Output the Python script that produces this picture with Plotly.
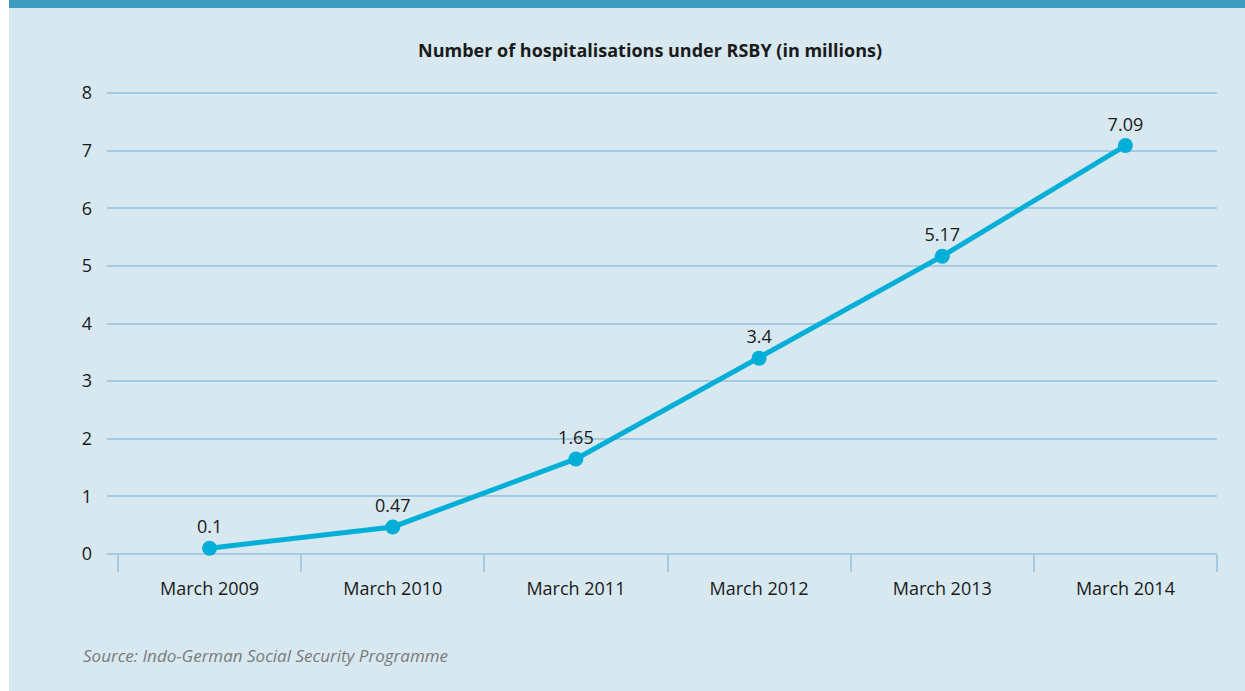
import plotly.graph_objects as go

categories = ["March 2009", "March 2010", "March 2011", "March 2012", "March 2013", "March 2014"]
values = [0.1, 0.47, 1.65, 3.4, 5.17, 7.09]
value_labels = ["0.1", "0.47", "1.65", "3.4", "5.17", "7.09"]
y_ticks = [0, 1, 2, 3, 4, 5, 6, 7, 8]

BG = "#d7e8f1"
GRID = "#a6cbe0"
LINE = "#00afd7"
TOPBAR = "#3e9bbd"
FONT = "Open Sans"
TXT = "#1a1a1a"

x_idx = list(range(len(categories)))
boundaries = [i - 0.5 for i in range(len(categories) + 1)]

fig = go.Figure()
fig.add_trace(go.Scatter(
    x=x_idx, y=values, mode="lines+markers+text",
    line=dict(color=LINE, width=5),
    marker=dict(color=LINE, size=15),
    text=value_labels, textposition="top center",
    textfont=dict(family=FONT, size=18, color=TXT),
    cliponaxis=False, hoverinfo="skip", showlegend=False,
))

W, H = 1245, 691
L, R, T, B = 107, 28, 92, 137
PW = W - L - R
PH = H - T - B


def px_x(p):
    return (p - L) / PW


def px_y(p):
    return (H - B - p) / PH


fig.update_layout(
    width=W, height=H,
    margin=dict(l=L, r=R, t=T, b=B),
    paper_bgcolor="white",
    plot_bgcolor=BG,
    font=dict(family=FONT, size=18, color=TXT),
    xaxis=dict(
        range=[-0.56, 5.5],
        tickvals=x_idx, ticktext=categories,
        showgrid=False, zeroline=False, showline=False,
        ticks="", ticklabelstandoff=22,
        tickfont=dict(family=FONT, size=18, color=TXT),
        minor=dict(tickvals=boundaries, ticks="outside", ticklen=17,
                   tickwidth=2, tickcolor=GRID, showgrid=False),
        fixedrange=True,
    ),
    yaxis=dict(
        range=[0, 8.02], tickvals=y_ticks,
        showgrid=True, gridcolor=GRID, gridwidth=2,
        zeroline=True, zerolinecolor=GRID, zerolinewidth=2,
        showline=False, ticks="", ticklabelstandoff=14,
        tickfont=dict(family=FONT, size=18, color=TXT),
        fixedrange=True,
    ),
    shapes=[
        dict(type="rect", xref="paper", yref="paper",
             x0=px_x(9), x1=px_x(W), y0=px_y(H), y1=px_y(0),
             fillcolor=BG, line=dict(width=0), layer="below"),
        dict(type="rect", xref="paper", yref="paper",
             x0=px_x(9), x1=px_x(W), y0=px_y(8), y1=px_y(0),
             fillcolor=TOPBAR, line=dict(width=0), layer="below"),
    ],
    annotations=[
        dict(text="<b>Number of hospitalisations under RSBY (in millions)</b>",
             xref="paper", yref="paper",
             x=px_x(650), y=px_y(50),
             xanchor="center", yanchor="middle", showarrow=False,
             font=dict(family=FONT, size=18, color=TXT)),
        dict(text="<i>Source: Indo-German Social Security Programme</i>",
             xref="paper", yref="paper",
             x=px_x(81), y=px_y(655),
             xanchor="left", yanchor="middle", showarrow=False,
             font=dict(family=FONT, size=17, color="#7a7a7a")),
    ],
)

fig.write_html(
    "out.html",
    config={"displayModeBar": False},
    post_script="document.body.style.margin='0';document.body.style.overflow='hidden';",
)
